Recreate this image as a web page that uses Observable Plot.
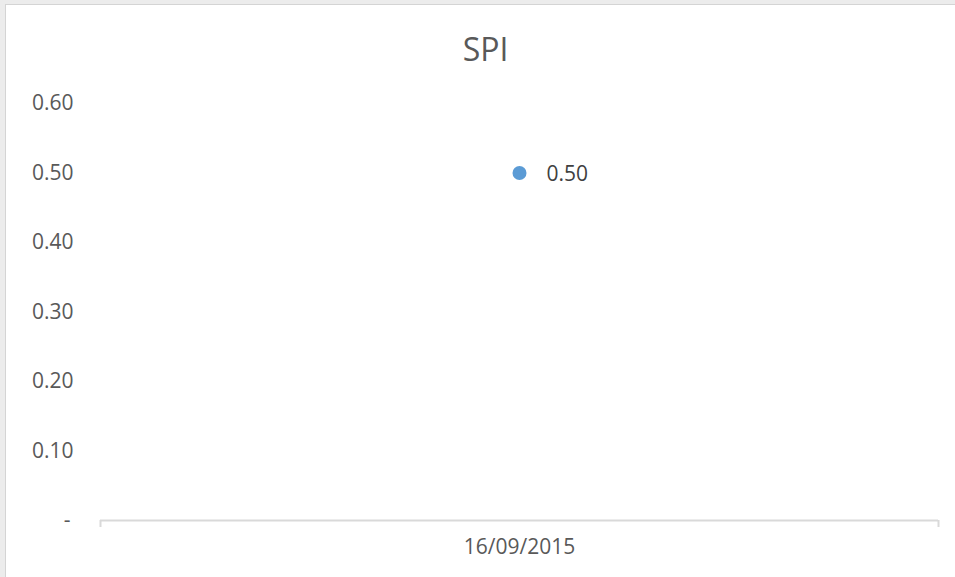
<!DOCTYPE html>
<html>
<head>
<meta charset="utf-8">
<script src="https://cdn.jsdelivr.net/npm/d3@7"></script>
<script src="https://cdn.jsdelivr.net/npm/@observablehq/plot@0.6"></script>
<style>
  html, body { margin: 0; padding: 0; background: #ececec; }
  #wrap { position: relative; width: 955px; height: 577px; overflow: hidden; }
  #box { position: absolute; left: 5px; top: 4px; right: -2px; bottom: -2px; background: #fff; border: 1px solid #d4d4d4; }
  #title { position: absolute; left: 16px; right: 0; top: 28px; text-align: center; font-family: "Open Sans", sans-serif; font-size: 32px; color: #595959; line-height: 42px; }
  #chart { position: absolute; left: 0; top: 0; }
</style>
</head>
<body>
<div id="wrap">
  <div id="box"></div>
  <div id="title">SPI</div>
  <div id="chart"></div>
</div>
<script>
const title = "SPI";
const categories = ["16/09/2015"];
const values = [0.50];
const yTicks = [0, 0.1, 0.2, 0.3, 0.4, 0.5, 0.6];

const data = categories.map((c, i) => ({cat: c, idx: i + 0.5, value: values[i]}));
const boundaries = d3.range(categories.length + 1);
const centers = categories.map((c, i) => i + 0.5);

const font = "'Open Sans', sans-serif";
const grey = "#595959";
const axisGrey = "#d9d9d9";

const chart = Plot.plot({
  width: 955,
  height: 577,
  marginTop: 103,
  marginBottom: 57,
  marginLeft: 100,
  marginRight: 17,
  style: { background: "transparent", fontFamily: font, fontSize: "21px", color: grey },
  x: { type: "linear", domain: [0, categories.length], axis: null },
  y: { domain: [0, 0.6], axis: null },
  marks: [
    Plot.axisY(yTicks.filter(d => d !== 0), {
      tickSize: 0,
      tickPadding: 27,
      tickFormat: d => d.toFixed(2),
      fontSize: 21,
      fill: grey,
      label: null
    }),
    Plot.axisY([0], {
      tickSize: 0,
      tickPadding: 30,
      tickFormat: () => "-",
      fontSize: 21,
      fill: grey,
      label: null
    }),
    Plot.ruleY([0], { stroke: axisGrey, strokeWidth: 2 }),
    Plot.axisX({
      ticks: boundaries,
      tickSize: 7,
      tickFormat: () => "",
      stroke: axisGrey,
      strokeWidth: 2,
      label: null
    }),
    Plot.axisX({
      ticks: centers,
      tickSize: 0,
      tickPadding: 19,
      tickFormat: (d) => categories[Math.floor(d)],
      fontSize: 21,
      fill: grey,
      label: null
    }),
    Plot.dot(data, { x: "idx", y: "value", r: 7, fill: "#5b9bd5", stroke: "none" }),
    Plot.text(data, {
      x: "idx", y: "value",
      text: d => d.value.toFixed(2),
      textAnchor: "start",
      dx: 27, dy: 1,
      fontSize: 21,
      fill: "#404040"
    })
  ]
});
document.getElementById("chart").appendChild(chart);
</script>
</body>
</html>
